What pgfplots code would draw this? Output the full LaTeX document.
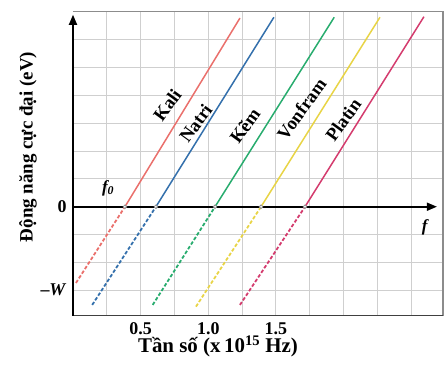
\documentclass[border=0pt]{standalone}
\usepackage{pgfplots}
\pgfplotsset{compat=1.18}
\usepackage{fontspec}
\setmainfont{Liberation Serif}
\usetikzlibrary{arrows.meta,calc}
\definecolor{cK}{RGB}{234,112,108}
\definecolor{cNa}{RGB}{52,112,172}
\definecolor{cZn}{RGB}{40,172,110}
\definecolor{cW}{RGB}{232,212,70}
\definecolor{cPt}{RGB}{212,60,110}
\begin{document}
\begin{tikzpicture}
\begin{axis}[
 name=ax,
 scale only axis,
 width=370bp, height=303.8bp,
 xmin=0, xmax=2.735, ymin=-3.91, ymax=7.01,
 clip=false,
 axis line style={draw=none},
 tickwidth=0pt,
 xtick={0.5,1.0,1.5},
 xticklabels={0.5,1.0,1.5},
 ytick={-3,0},
 yticklabels={{--\textit{W}},0},
 tick label style={font=\fontsize{18}{21}\selectfont\bfseries},
 xticklabel style={yshift=-4bp},
 yticklabel style={xshift=-3bp},
]
% grid
\begin{scope}[black!19, line width=1pt]
\draw (axis cs:0.25,-3.91) -- (axis cs:0.25,7.01);
\draw (axis cs:0.5,-3.91) -- (axis cs:0.5,7.01);
\draw (axis cs:0.75,-3.91) -- (axis cs:0.75,7.01);
\draw (axis cs:1.0,-3.91) -- (axis cs:1.0,7.01);
\draw (axis cs:1.25,-3.91) -- (axis cs:1.25,7.01);
\draw (axis cs:1.5,-3.91) -- (axis cs:1.5,7.01);
\draw (axis cs:1.75,-3.91) -- (axis cs:1.75,7.01);
\draw (axis cs:2.0,-3.91) -- (axis cs:2.0,7.01);
\draw (axis cs:2.25,-3.91) -- (axis cs:2.25,7.01);
\draw (axis cs:2.5,-3.91) -- (axis cs:2.5,7.01);
\draw (axis cs:0,-3) -- (axis cs:2.735,-3);
\draw (axis cs:0,-2) -- (axis cs:2.735,-2);
\draw (axis cs:0,-1) -- (axis cs:2.735,-1);
\draw (axis cs:0,1) -- (axis cs:2.735,1);
\draw (axis cs:0,2) -- (axis cs:2.735,2);
\draw (axis cs:0,3) -- (axis cs:2.735,3);
\draw (axis cs:0,4) -- (axis cs:2.735,4);
\draw (axis cs:0,5) -- (axis cs:2.735,5);
\draw (axis cs:0,6) -- (axis cs:2.735,6);
\end{scope}
% frame
\draw[black!45, line width=1.1pt] (axis cs:0,7.01) -- (axis cs:2.735,7.01) -- (axis cs:2.735,-3.91);
\draw[line width=1.4pt, black!75] (axis cs:0,-3.91) -- (axis cs:2.735,-3.91);
% axes arrows
\draw[line width=1.7pt, -{Triangle[length=10bp,width=8bp]}] (axis cs:0,-3.91) -- (axis cs:0,6.9);
\draw[line width=1.7pt, -{Triangle[length=10bp,width=8bp]}] (axis cs:0,0) -- (axis cs:2.69,0);
% Kali
\addplot[cK, line width=1.8bp, dash pattern=on 3.5bp off 2bp] coordinates {(0.022,-2.74) (0.384,0)};
\addplot[cK, line width=1.5bp] coordinates {(0.384,0) (1.234,6.78)};
% Natri
\addplot[cNa, line width=1.8bp, dash pattern=on 3.5bp off 2bp] coordinates {(0.142,-3.53) (0.613,0)};
\addplot[cNa, line width=1.5bp] coordinates {(0.613,0) (1.485,6.81)};
% Kem
\addplot[cZn, line width=1.8bp, dash pattern=on 3.5bp off 2bp] coordinates {(0.589,-3.53) (1.05,0)};
\addplot[cZn, line width=1.5bp] coordinates {(1.05,0) (1.931,6.81)};
% Vonfram
\addplot[cW, line width=1.8bp, dash pattern=on 3.5bp off 2bp] coordinates {(0.909,-3.59) (1.39,0)};
\addplot[cW, line width=1.5bp] coordinates {(1.39,0) (2.269,6.81)};
% Platin
\addplot[cPt, line width=1.8bp, dash pattern=on 3.5bp off 2bp] coordinates {(1.234,-3.53) (1.715,0)};
\addplot[cPt, line width=1.5bp] coordinates {(1.715,0) (2.594,6.83)};
% threshold circles
\addplot[only marks, mark=*, mark size=1.8bp, mark options={fill=white, draw=black!45, line width=0.8pt}]
 coordinates {(0.384,0) (0.613,0) (1.05,0) (1.39,0) (1.715,0)};
% labels
\begin{scope}[every node/.style={rotate=54, font=\fontsize{18.5}{22}\selectfont\bfseries}]
\node at (axis cs:0.697,3.66) {Kali};
\node at (axis cs:0.907,3.0) {Natri};
\node at (axis cs:1.271,2.91) {Kẽm};
\node at (axis cs:1.690,3.51) {Vonfram};
\node at (axis cs:1.998,3.12) {Platin};
\end{scope}
\node[font=\fontsize{17}{20}\selectfont\bfseries\itshape] at (axis cs:0.259,0.67) {f\textsubscript{0}};
\node[font=\fontsize{17}{20}\selectfont\bfseries\itshape] at (axis cs:2.60,-0.73) {f};
\end{axis}
\node[rotate=90, font=\fontsize{19}{22}\selectfont\bfseries] at ($(ax.south west)+(-45bp,168.5bp)$) {Động năng cực đại (eV)};
\node[anchor=base, font=\fontsize{21}{24}\selectfont\bfseries] at ($(ax.south west)+(145bp,-37bp)$) {Tần số (x\,10\textsuperscript{15} Hz)};
\pgfresetboundingbox
\path ($(ax.south west)+(-73bp,-51.5bp)$) rectangle ($(ax.north east)+(4bp,11.7bp)$);
\end{tikzpicture}
\end{document}
